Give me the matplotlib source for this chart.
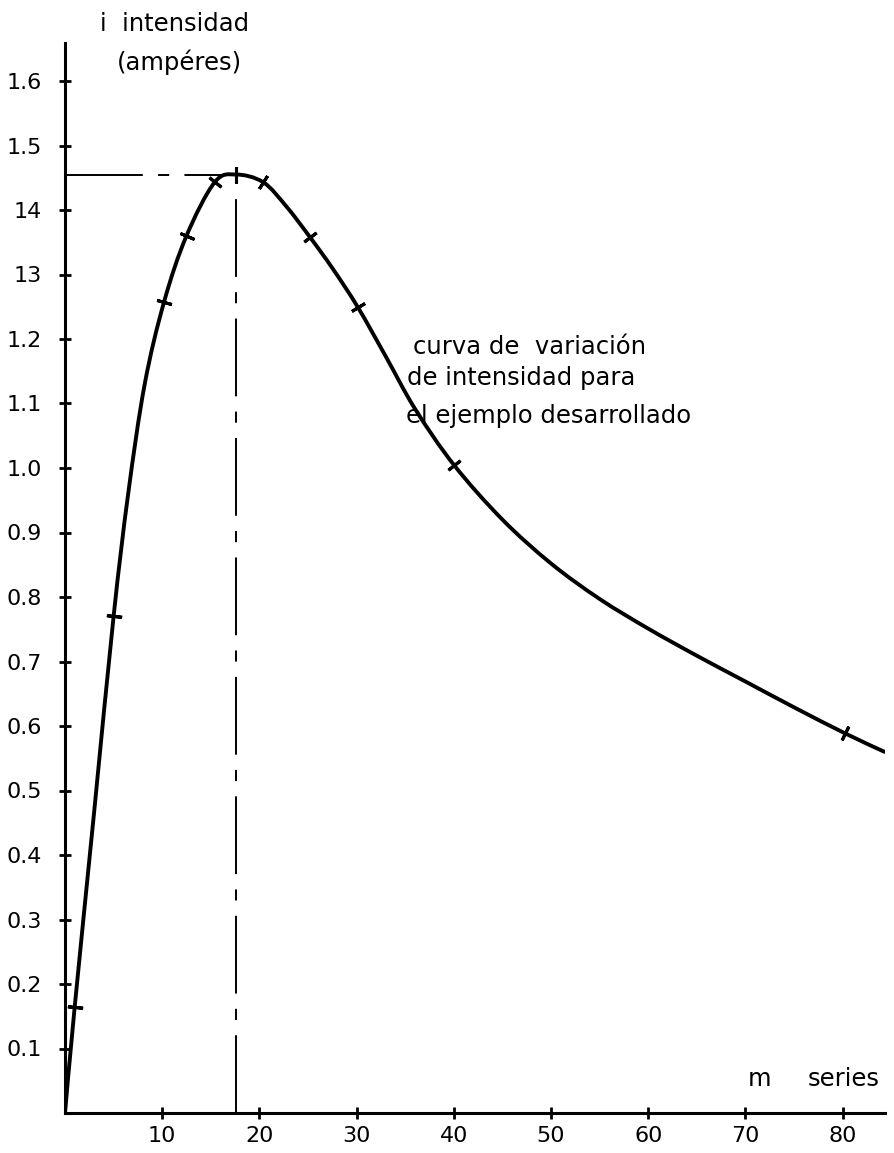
import numpy as np
import matplotlib
matplotlib.use("Agg")
import matplotlib.pyplot as plt
from matplotlib.path import Path
from matplotlib.patches import PathPatch

plt.rcParams['font.family'] = ['DejaVu Sans']
plt.rcParams['lines.scale_dashes'] = False

# curva (m series -> intensidad en amperes)
curve_m = [0, 1, 3, 5, 6.5, 8.2, 10.2, 12.5, 15.4, 17.6, 20.4, 22.8, 25.2,
           27.5, 30.1, 33, 36, 40, 45, 50, 55, 60, 65, 70, 75, 80.2, 84.3]
curve_i = [0, 0.165, 0.467, 0.77, 0.96, 1.13, 1.258, 1.36, 1.443, 1.455, 1.443,
           1.405, 1.358, 1.31, 1.25, 1.173, 1.092, 1.005, 0.92, 0.852, 0.797,
           0.751, 0.709, 0.669, 0.629, 0.589, 0.56]

# puntos marcados sobre la curva
mark_m = [1, 5, 10.2, 12.5, 15.4, 17.6, 20.4, 25.2, 30.1, 40, 80.2]

peak_m = 17.6
peak_i = 1.455

yticks = [0.1, 0.2, 0.3, 0.4, 0.5, 0.6, 0.7, 0.8, 0.9, 1.0, 1.1, 1.2, 1.3, 1.4, 1.5, 1.6]
ytick_labels = ["0.1", "0.2", "0.3", "0.4", "0.5", "0.6", "0.7", "0.8", "0.9",
                "1.0", "1.1", "1.2", "13", "14", "1.5", "1.6"]
xticks = [10, 20, 30, 40, 50, 60, 70, 80]
xtick_labels = ["10", "20", "30", "40", "50", "60", "70", "80"]


def smooth_path(xs, ys):
    # trazo suave tipo Catmull-Rom pasando por los puntos leidos
    p = np.column_stack([xs, ys]).astype(float)
    verts = [p[0]]
    codes = [Path.MOVETO]
    n = len(p)
    for i in range(n - 1):
        p0 = p[i - 1] if i > 0 else p[i]
        p3 = p[i + 2] if i + 2 < n else p[i + 1]
        c1 = p[i] + (p[i + 1] - p0) / 6
        c2 = p[i + 1] - (p3 - p[i]) / 6
        verts += [c1, c2, p[i + 1]]
        codes += [Path.CURVE4] * 3
    return Path(verts, codes)


W, H = 895, 1153
fig = plt.figure(figsize=(W / 100, H / 100), dpi=100)
ax = fig.add_axes([65 / W, 40 / H, 820 / W, 1070 / H])
ax.set_xlim(0, 820 / 9.72)
ax.set_ylim(0, 1070 / 645)

for s in ["top", "right"]:
    ax.spines[s].set_visible(False)
for s in ["left", "bottom"]:
    ax.spines[s].set_linewidth(2.2)

ax.set_yticks(yticks)
ax.set_yticklabels(ytick_labels)
ax.set_xticks(xticks)
ax.set_xticklabels(xtick_labels)
ax.tick_params(axis="y", direction="inout", length=9, width=2, labelsize=16, pad=12)
ax.tick_params(axis="x", direction="inout", length=8, width=2, labelsize=16, pad=5)

# lineas de referencia del maximo
dash = (0, (56, 11, 8, 11))
ax.plot([peak_m, peak_m], [0, peak_i], color="black", lw=1.4, linestyle=dash)
ax.plot([0, peak_m], [peak_i, peak_i], color="black", lw=1.4, linestyle=dash)

# curva
ax.add_patch(PathPatch(smooth_path(curve_m, curve_i), facecolor="none",
                       edgecolor="black", lw=2.8, capstyle="round", joinstyle="round"))

# marcas perpendiculares sobre la curva
pts = ax.transData.transform(np.column_stack([curve_m, curve_i]))
for m in mark_m:
    k = curve_m.index(m)
    a = max(k - 1, 0)
    b = min(k + 1, len(curve_m) - 1)
    d = pts[b] - pts[a]
    ang = np.degrees(np.arctan2(d[1], d[0]))
    ax.plot([m], [curve_i[k]], marker=(2, 2, ang), markersize=11,
            markeredgewidth=2.2, color="black")

# textos
ax.text(3.6, 1.688, "i  intensidad", fontsize=17.5, ha="left", va="center", clip_on=False)
ax.text(11.8, 1.629, "(ampéres)", fontsize=17.5, ha="center", va="center", clip_on=False)

ax.text(35.8, 1.188, "curva de  variación", fontsize=17.5, ha="left", va="center")
ax.text(35.2, 1.14, "de intensidad para", fontsize=17.5, ha="left", va="center")
ax.text(35.1, 1.08, "el ejemplo desarrollado", fontsize=17.5, ha="left", va="center")

ax.text(71.4, 0.052, "m", fontsize=17.5, ha="center", va="center")
ax.text(83.8, 0.052, "series", fontsize=17.5, ha="right", va="center", clip_on=False)

fig.savefig("out.png", dpi=100, facecolor="white")
